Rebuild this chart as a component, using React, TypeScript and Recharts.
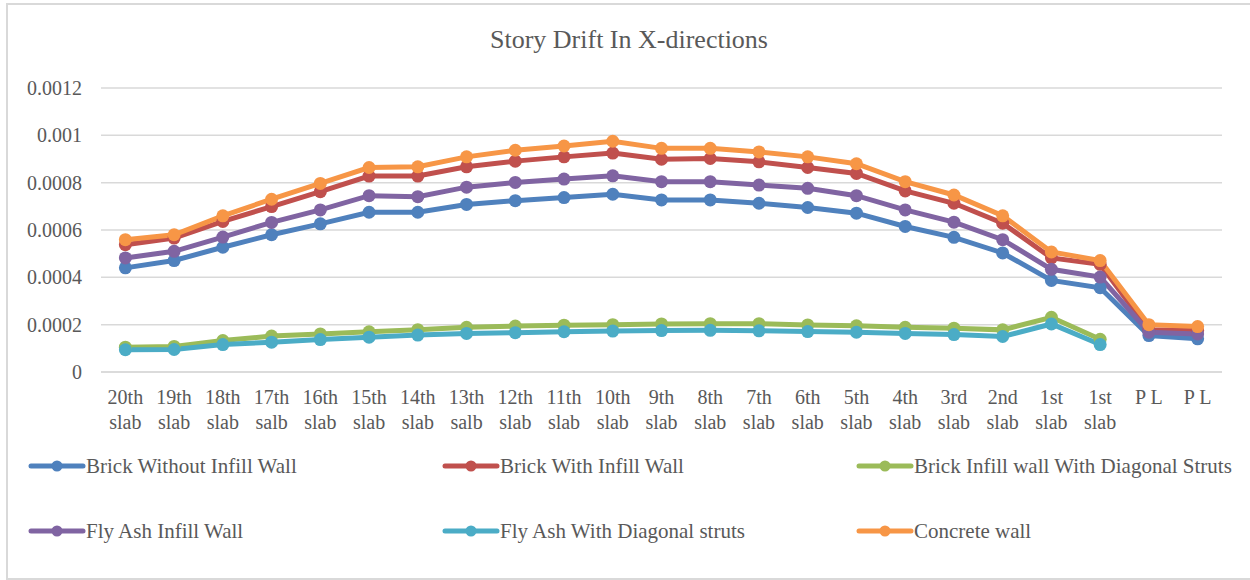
import { LineChart, Line, XAxis, YAxis, CartesianGrid } from "recharts"

const storyTop = [
  "20th", "19th", "18th", "17th", "16th", "15th", "14th", "13th", "12th", "11th", "10th", "9th",
  "8th", "7th", "6th", "5th", "4th", "3rd", "2nd", "1st", "1st", "P L", "P L",
]
const storyBottom = [
  "slab", "slab", "slab", "salb", "slab", "slab", "slab", "salb", "slab", "slab", "slab", "slab",
  "slab", "slab", "slab", "slab", "slab", "slab", "slab", "slab", "slab", "", "",
]

const brickWithout = [
  0.00044, 0.000471, 0.000527, 0.00058, 0.000626, 0.000675, 0.000675, 0.000708, 0.000724, 0.000737,
  0.000751, 0.000727, 0.000727, 0.000713, 0.000695, 0.000671, 0.000615, 0.000569, 0.000503,
  0.000387, 0.000356, 0.000154, 0.00014,
]
const brickWith = [
  0.000538, 0.000566, 0.000636, 0.000699, 0.000762, 0.000828, 0.000828, 0.000867, 0.000891, 0.000909,
  0.000925, 0.000899, 0.000902, 0.000888, 0.000864, 0.000839, 0.000765, 0.000713, 0.000629,
  0.000482, 0.000455, 0.000178, 0.000175,
]
const brickStruts = [
  0.000105, 0.000108, 0.000133, 0.000152, 0.000161, 0.00017, 0.000179, 0.000189, 0.000194, 0.000198,
  0.0002, 0.000203, 0.000204, 0.000204, 0.000199, 0.000195, 0.000189, 0.000185, 0.000178,
  0.000231, 0.000138, null, null,
]
const flyAsh = [
  0.000482, 0.00051, 0.00057, 0.000632, 0.000685, 0.000745, 0.000741, 0.000781, 0.000801, 0.000815,
  0.000829, 0.000804, 0.000804, 0.00079, 0.000776, 0.000745, 0.000685, 0.000633, 0.000559,
  0.000434, 0.000401, 0.000168, 0.000161,
]
const flyAshStruts = [
  0.000094, 0.000095, 0.000116, 0.000126, 0.000137, 0.000147, 0.000156, 0.000163, 0.000166, 0.00017,
  0.000173, 0.000175, 0.000176, 0.000174, 0.000171, 0.000168, 0.000163, 0.000158, 0.00015,
  0.000203, 0.000116, null, null,
]
const concrete = [
  0.000559, 0.00058, 0.00066, 0.00073, 0.000797, 0.000864, 0.000867, 0.000909, 0.000937, 0.000955,
  0.000975, 0.000945, 0.000945, 0.00093, 0.000909, 0.00088, 0.000804, 0.000748, 0.00066,
  0.000507, 0.000471, 0.0002, 0.000192,
]

const yTicks = [0, 0.0002, 0.0004, 0.0006, 0.0008, 0.001, 0.0012]

const series = [
  { key: "brickWithout", name: "Brick Without Infill Wall", color: "#4f81bd", values: brickWithout },
  { key: "brickWith", name: "Brick With Infill Wall", color: "#c0504d", values: brickWith },
  { key: "brickStruts", name: "Brick Infill wall With Diagonal Struts", color: "#9bbb59", values: brickStruts },
  { key: "flyAsh", name: "Fly Ash Infill Wall", color: "#8064a2", values: flyAsh },
  { key: "flyAshStruts", name: "Fly Ash With Diagonal struts", color: "#4bacc6", values: flyAshStruts },
  { key: "concrete", name: "Concrete wall", color: "#f79646", values: concrete },
]

const data = storyTop.map((_, i) => {
  const row: Record<string, number | null> = { slot: i }
  series.forEach((s) => {
    row[s.key] = s.values[i]
  })
  return row
})

const FONT = "'Liberation Serif', 'Times New Roman', serif"
const TEXT = "#595959"
const BAND = 1121 / 23

function StoryTick(props: any) {
  const { x, y, payload } = props
  const i = payload.value as number
  return (
    <text x={x} y={y} textAnchor="middle" fontFamily={FONT} fontSize={20} fill={TEXT}>
      <tspan x={x} dy={24}>{storyTop[i]}</tspan>
      <tspan x={x} dy={25}>{storyBottom[i]}</tspan>
    </text>
  )
}

// legend laid out in a 3 x 2 grid under the plot
const legendCols = [28, 442, 856]
const legendRows = [466, 531]

export default function App() {
  return (
    <div
      style={{
        position: "absolute",
        left: 0,
        top: 0,
        width: 1250,
        height: 580,
        background: "#fff",
        fontFamily: FONT,
        overflow: "hidden",
      }}
    >
      <div
        style={{
          position: "absolute",
          left: 6,
          top: 3,
          width: 1250,
          height: 577,
          border: "2px solid #d9d9d9",
          boxSizing: "border-box",
        }}
      />
      <div
        style={{
          position: "absolute",
          left: 0,
          width: 1258,
          top: 25,
          textAlign: "center",
          fontSize: 26,
          color: TEXT,
        }}
      >
        Story Drift In X-directions
      </div>
      <div style={{ position: "absolute", left: 0, top: 0 }}>
        <LineChart
          width={1250}
          height={580}
          data={data}
          margin={{ top: 88, right: 28, bottom: 148, left: 0 }}
        >
          <CartesianGrid vertical={false} stroke="#d9d9d9" strokeWidth={1.5} />
          <XAxis
            dataKey="slot"
            type="category"
            axisLine={{ stroke: "#d9d9d9", strokeWidth: 1.5 }}
            tickLine={false}
            interval={0}
            tick={<StoryTick />}
            height={60}
            padding={{ left: BAND / 2, right: BAND / 2 }}
          />
          <YAxis
            domain={[0, 0.0012]}
            ticks={yTicks}
            axisLine={false}
            tickLine={false}
            width={101}
            tick={{ fontFamily: FONT, fontSize: 20, fill: TEXT, textAnchor: "end" }}
            tickMargin={13}
            tickFormatter={(v: number) => String(v)}
          />
          {series.map((s) => (
            <Line
              key={s.key}
              dataKey={s.key}
              name={s.name}
              stroke={s.color}
              strokeWidth={5}
              dot={{ r: 6.5, fill: s.color, stroke: s.color, strokeWidth: 0 }}
              isAnimationActive={false}
            />
          ))}
        </LineChart>
      </div>
      {series.map((s, i) => {
        const left = legendCols[i % 3]
        const top = legendRows[Math.floor(i / 3)]
        return (
          <div key={s.key} style={{ position: "absolute", left, top: top - 13, height: 26, display: "flex", alignItems: "center" }}>
            <svg width={58} height={14}>
              <line x1={3} y1={7} x2={55} y2={7} stroke={s.color} strokeWidth={5} strokeLinecap="round" />
              <circle cx={29} cy={7} r={5.5} fill={s.color} />
            </svg>
            <span style={{ fontSize: 21, color: TEXT, whiteSpace: "nowrap" }}>{s.name}</span>
          </div>
        )
      })}
    </div>
  )
}
